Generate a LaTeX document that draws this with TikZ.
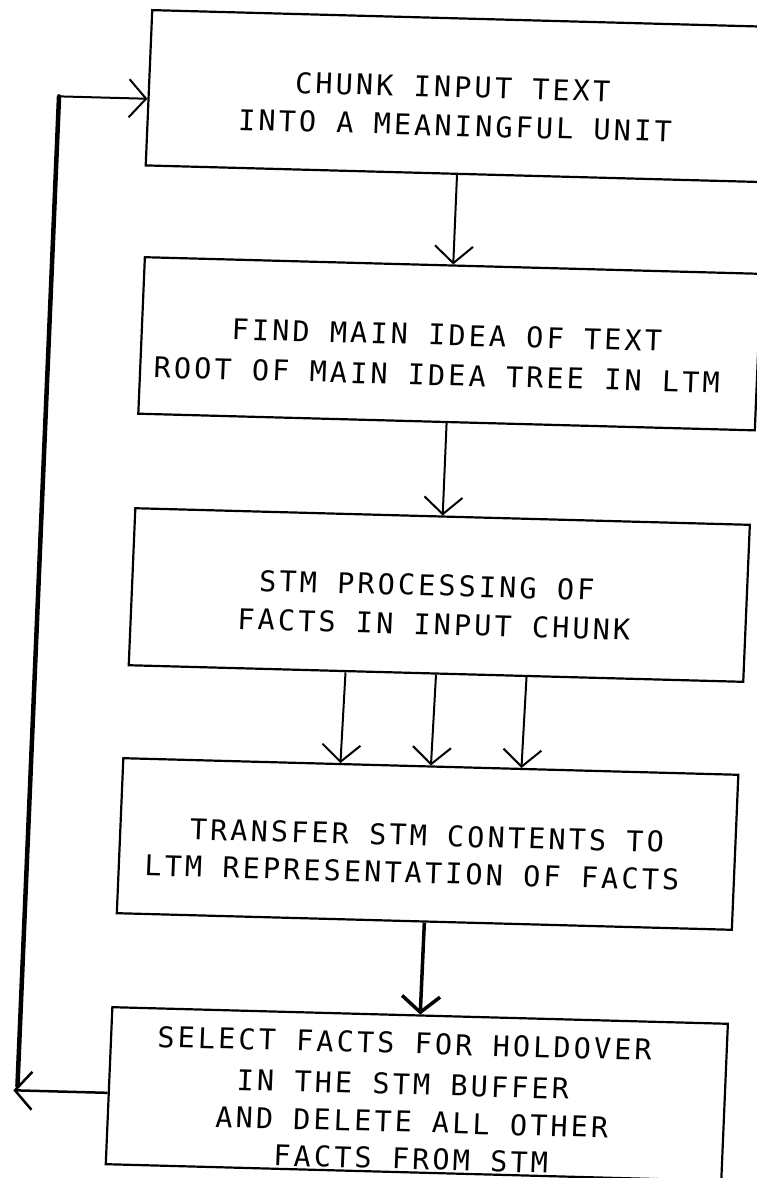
\documentclass[tikz,border=0pt]{standalone}
\usepackage{fontspec}
\newfontfamily\plotfont{DejaVu Sans Mono}[LetterSpace=10.9]
\usetikzlibrary{arrows.meta,calc}
\begin{document}
\begin{tikzpicture}[x=1pt,y=-1pt,
  box/.style={draw, line width=2.2pt, rectangle, inner sep=0pt},
  lbl/.style={font=\plotfont\fontsize{28.5}{30}\selectfont, anchor=base, inner sep=0pt},
  arr/.style={line width=2pt, -{Straight Barb[length=17pt,width=38pt]}},
  thickarr/.style={line width=3.5pt, -{Straight Barb[length=16pt,width=38pt]}},
  feed/.style={line width=4.5pt, line cap=round},
]
\fill[white] (0,0) rectangle (757,1178);
\useasboundingbox (0,0) rectangle (757,1178);
\begin{scope}[cm={1,-0.027,0.042,1,(0,0)}, transform shape]
  % boxes
  \node[box, minimum width=622.5pt, minimum height=155.3pt] (b1) at (463.75,83.65) {};
  \node[box, minimum width=616.5pt, minimum height=156.5pt] (b2) at (463.75,331.25) {};
  \node[box, minimum width=614.5pt, minimum height=157pt] (b3) at (463.75,582.5) {};
  \node[box, minimum width=615pt, minimum height=155pt] (b4) at (462.5,831.5) {};
  \node[box, minimum width=615.5pt, minimum height=157pt] (b5) at (462.25,1081.5) {};
  % texts
  \node[lbl] (t1a) at (456,85) {CHUNK INPUT TEXT};
  \node[lbl] (t1b) at (459.7,123.7) {INTO A MEANINGFUL UNIT};
  \node[lbl] (t2a) at (460.5,333) {FIND MAIN IDEA OF TEXT};
  \node[lbl] (t2b) at (452,373.2) {ROOT OF MAIN IDEA TREE IN LTM};
  \node[lbl] (t3a) at (451,583.5) {STM PROCESSING OF};
  \node[lbl] (t3b) at (459.6,622.3) {FACTS IN INPUT CHUNK};
  \node[lbl] (t4a) at (461.5,833.5) {TRANSFER STM CONTENTS TO};
  \node[lbl] (t4b) at (448,870.9) {LTM REPRESENTATION OF FACTS};
  \node[lbl] (t5a) at (448,1041.6) {SELECT FACTS FOR HOLDOVER};
  \node[lbl] (t5b) at (448,1082.6) {IN THE STM BUFFER};
  \node[lbl] (t5c) at (458.5,1120) {AND DELETE ALL OTHER};
  \node[lbl] (t5d) at (459,1157) {FACTS FROM STM};
  % connectors
  \draw[arr] (b1.south) -- (b2.north);
  \draw[arr] (b2.south) -- (b3.north);
  \foreach \d in {-90.5,0,90.5}
    \draw[arr] ($(b3.south)+(\d,0)$) -- ($(b4.north)+(\d,0)$);
  \draw[thickarr] (b4.south) -- (b5.north);
  % feedback loop
  \coordinate (fl) at (59,1088.5);
  \coordinate (fb) at (63,1084);
  \coordinate (ft) at (63,94.65);
  \draw[arr, line width=2.5pt] ($(b5.west)+(0,7)$) -- (fl);
  \draw[feed] (fb) -- (ft);
  \draw[arr] (ft) -- ($(b1.west)+(0,11)$);
\end{scope}
\end{tikzpicture}
\end{document}
